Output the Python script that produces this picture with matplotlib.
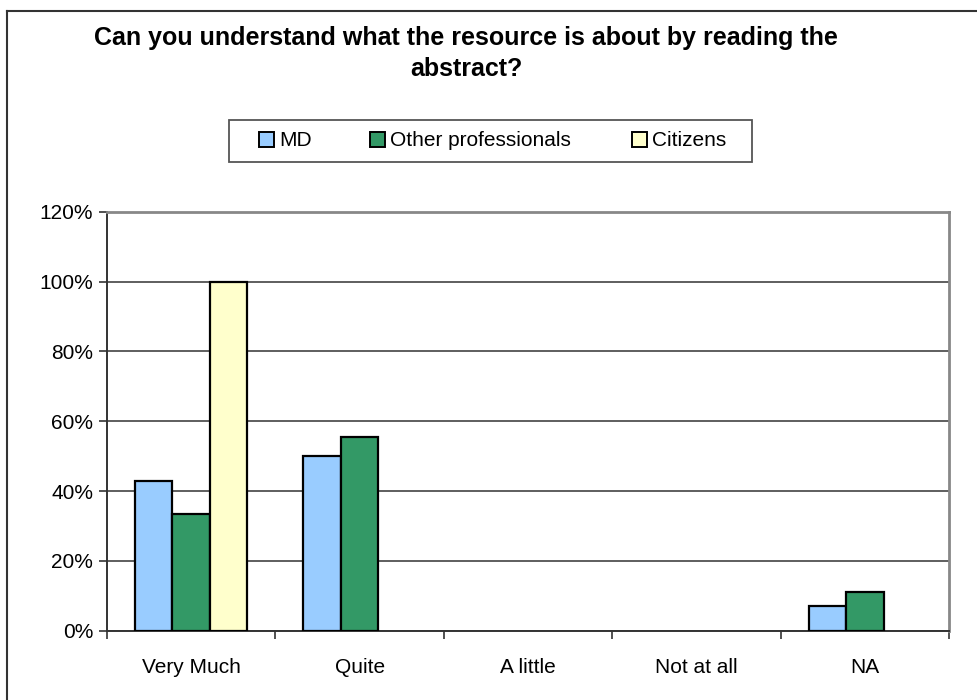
import matplotlib
matplotlib.use("Agg")
import matplotlib.pyplot as plt
import numpy as np
from matplotlib.patches import Rectangle
from matplotlib.lines import Line2D

categories = ["Very Much", "Quite", "A little", "Not at all", "NA"]
series_names = ["MD", "Other professionals", "Citizens"]
md = [42.9, 50.0, 0.0, 0.0, 7.1]
other = [33.3, 55.6, 0.0, 0.0, 11.1]
citizens = [100.0, 0.0, 0.0, 0.0, 0.0]
yticks = [0, 20, 40, 60, 80, 100, 120]
title = "Can you understand what the resource is about by reading the\nabstract?"
colors = ["#99CCFF", "#339966", "#FFFFCC"]

plt.rcParams['font.family'] = ['Liberation Sans', 'DejaVu Sans']

W, H = 978, 700
fig = plt.figure(figsize=(W / 100, H / 100), dpi=100)
L, R, T, B = 107, 949, 211.7, 630.7
ax = fig.add_axes([L / W, 1 - B / H, (R - L) / W, (B - T) / H])

x = np.arange(len(categories))
bw = 1 / 4.5
for i, vals in enumerate([md, other, citizens]):
    xs = x + (i - 1) * bw
    for xi, v in zip(xs, vals):
        if v > 0:
            ax.bar(xi, v, width=bw, color=colors[i], edgecolor="black", linewidth=1.6, zorder=3)

ax.set_xlim(-0.5, len(categories) - 0.5)
ax.set_ylim(0, 120)
ax.set_yticks(yticks)
ax.set_yticklabels([f"{t}%" for t in yticks], fontsize=15)
ax.set_xticks(x)
ax.set_xticklabels(categories, fontsize=15)
ax.tick_params(axis="x", length=0, pad=20)
ax.set_xticks(np.arange(len(categories) + 1) - 0.5, minor=True)
ax.tick_params(axis="x", which="minor", length=6, width=1.2, color="#333333")
ax.tick_params(axis="y", length=6, width=1.2, color="#333333", pad=4)
ax.grid(axis="y", color="#333333", linewidth=1.1, zorder=0)
ax.set_axisbelow(True)
for s in ["top", "right"]:
    ax.spines[s].set_color("#888888")
    ax.spines[s].set_linewidth(2)
for s in ["left", "bottom"]:
    ax.spines[s].set_color("#333333")
    ax.spines[s].set_linewidth(1.4)

fig.text(466 / W, 1 - 38 / H, title.split("\n")[0], ha="center", va="center", fontsize=18,
         fontweight="bold")
fig.text(466 / W, 1 - 69 / H, title.split("\n")[1], ha="center", va="center", fontsize=18,
         fontweight="bold")

# legend
tr = fig.transFigure
def fx(px):
    return px / W
def fy(py):
    return 1 - py / H
fig.patches.append(Rectangle((fx(229), fy(162)), fx(752) - fx(229), fy(120) - fy(162),
                             transform=tr, facecolor="white", edgecolor="#555555", linewidth=1.3))
sw_x = [259, 370, 632]
for i, name in enumerate(series_names):
    fig.patches.append(Rectangle((fx(sw_x[i]), fy(147)), 15 / W, 15 / H, transform=tr,
                                 facecolor=colors[i], edgecolor="black", linewidth=1.4))
    fig.text(fx(sw_x[i] + 20), fy(140), name, ha="left", va="center", fontsize=15)

# outer frame (left and top visible)
fig.add_artist(Line2D([fx(7), fx(7)], [fy(11), 0], transform=tr, color="#333333", linewidth=1.5))
fig.add_artist(Line2D([fx(7), 1], [fy(11), fy(11)], transform=tr, color="#333333", linewidth=1.5))

fig.savefig("out.png", dpi=100)
